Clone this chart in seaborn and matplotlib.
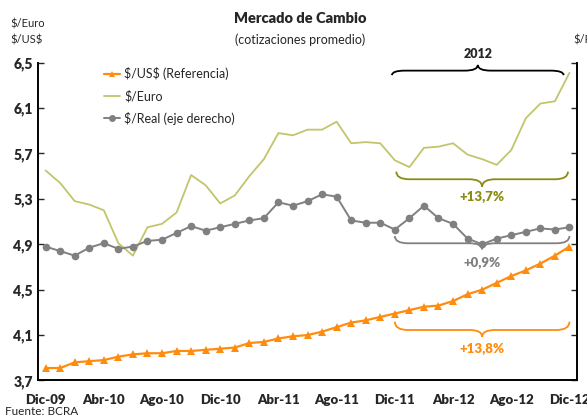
import numpy as np
import pandas as pd
import seaborn as sns
import matplotlib.pyplot as plt
from matplotlib.path import Path
from matplotlib.patches import PathPatch
from matplotlib.lines import Line2D

# monthly averages, Dec-09 .. Dec-12
months = ["Dic-09", "Ene-10", "Feb-10", "Mar-10", "Abr-10", "May-10", "Jun-10", "Jul-10",
          "Ago-10", "Sep-10", "Oct-10", "Nov-10", "Dic-10", "Ene-11", "Feb-11", "Mar-11",
          "Abr-11", "May-11", "Jun-11", "Jul-11", "Ago-11", "Sep-11", "Oct-11", "Nov-11",
          "Dic-11", "Ene-12", "Feb-12", "Mar-12", "Abr-12", "May-12", "Jun-12", "Jul-12",
          "Ago-12", "Sep-12", "Oct-12", "Nov-12", "Dic-12"]
usd = [3.81, 3.81, 3.86, 3.87, 3.88, 3.91, 3.93, 3.94, 3.94, 3.96, 3.96, 3.97, 3.98,
       3.99, 4.03, 4.04, 4.07, 4.09, 4.10, 4.13, 4.17, 4.21, 4.23, 4.26, 4.29, 4.32,
       4.35, 4.36, 4.40, 4.46, 4.50, 4.56, 4.62, 4.67, 4.73, 4.80, 4.88]
euro = [5.55, 5.44, 5.28, 5.25, 5.20, 4.91, 4.80, 5.05, 5.08, 5.18, 5.51, 5.42, 5.26,
        5.33, 5.50, 5.65, 5.88, 5.86, 5.91, 5.91, 5.98, 5.79, 5.80, 5.79, 5.64, 5.58,
        5.75, 5.76, 5.79, 5.69, 5.65, 5.60, 5.73, 6.01, 6.14, 6.16, 6.41]
real = [2.18, 2.14, 2.10, 2.17, 2.21, 2.16, 2.18, 2.23, 2.24, 2.30, 2.36, 2.32, 2.35,
        2.38, 2.41, 2.43, 2.57, 2.54, 2.58, 2.64, 2.62, 2.41, 2.39, 2.39, 2.33, 2.43,
        2.54, 2.43, 2.38, 2.25, 2.20, 2.25, 2.28, 2.31, 2.34, 2.33, 2.35]
left_ticks = [3.7, 4.1, 4.5, 4.9, 5.3, 5.7, 6.1, 6.5]
right_ticks = [1.0, 1.4, 1.8, 2.2, 2.6, 3.0, 3.4, 3.8]

df = pd.DataFrame({"mes": months, "usd": usd, "euro": euro, "real": real})
df["i"] = np.arange(len(df))

c_usd = "#ff8c0f"
c_euro = "#c2c56a"
c_real = "#808080"
c_olive = "#8b8b14"

sns.set_style("white")
plt.rcParams["font.family"] = ["Lato", "DejaVu Sans"]

fig = plt.figure(figsize=(5.87, 4.19), dpi=100)
ax = fig.add_axes([0.0653, 0.0919, 0.9172, 0.7585])
ax2 = ax.twinx()

sns.lineplot(data=df, x="i", y="usd", ax=ax, color=c_usd, lw=1.6, marker="^",
             markersize=5.5, markeredgewidth=0, zorder=4)
sns.lineplot(data=df, x="i", y="euro", ax=ax, color=c_euro, lw=1.3, zorder=3)
sns.lineplot(data=df, x="i", y="real", ax=ax2, color=c_real, lw=1.4, marker="o",
             markersize=5.5, markeredgewidth=0, zorder=3)

ax.set_xlim(-0.5, len(df) - 0.5)
ax.set_ylim(3.7, 6.5)
ax2.set_ylim(1.0, 3.8)

ax.set_yticks(left_ticks, [f"{v:.1f}".replace(".", ",") for v in left_ticks],
              fontweight="heavy", fontsize=10)
ax2.set_yticks(right_ticks)
ax.tick_params(axis="y", direction="in", length=4.5, width=1, pad=4)
ax2.tick_params(axis="y", direction="in", length=4.5, width=1, labelright=False)

lab_pos = list(range(0, len(df), 4))
ax.set_xticks(lab_pos, [months[k] for k in lab_pos], fontweight="heavy", fontsize=9.5)
ax.tick_params(axis="x", which="major", length=0, pad=10)
ax.set_xticks(np.arange(-0.5, len(df), 3), minor=True)
ax.tick_params(axis="x", which="minor", direction="in", length=4.5, width=1)
ax.set_xlabel("")
ax.set_ylabel("")
ax2.set_ylabel("")

for a in (ax, ax2):
    a.spines["top"].set_visible(False)
    for s in ("left", "right", "bottom"):
        a.spines[s].set_color("black")
        a.spines[s].set_linewidth(1.2)


def brace(x0, x1, y_end, y_mid, y_tip, color):
    xc = (x0 + x1) / 2
    r = 0.9
    verts = [(x0, y_end), (x0, y_mid), (x0 + r, y_mid),
             (xc - r, y_mid),
             (xc, y_mid), (xc, y_tip),
             (xc, y_mid), (xc + r, y_mid),
             (x1 - r, y_mid),
             (x1, y_mid), (x1, y_end)]
    codes = [Path.MOVETO, Path.CURVE3, Path.CURVE3, Path.LINETO,
             Path.CURVE3, Path.CURVE3, Path.CURVE3, Path.CURVE3,
             Path.LINETO, Path.CURVE3, Path.CURVE3]
    ax.add_patch(PathPatch(Path(verts, codes), fill=False, edgecolor=color, lw=1.3,
                           clip_on=False, zorder=5))


brace(23.8, 35.6, 6.39, 6.43, 6.48, "black")
brace(24.1, 35.9, 5.54, 5.473, 5.407, c_olive)
brace(24.0, 36.0, 4.973, 4.909, 4.856, c_real)
brace(24.0, 36.0, 4.218, 4.145, 4.086, c_usd)

ax.text(29.7, 6.52, "2012", ha="center", va="bottom", fontweight="heavy", fontsize=9,
        clip_on=False)
ax.text(30.0, 5.317, "+13,7%", ha="center", va="center", fontweight="heavy",
        fontsize=9.5, color=c_olive)
ax.text(30.0, 4.735, "+0,9%", ha="center", va="center", fontweight="heavy",
        fontsize=9.5, color=c_real)
ax.text(30.0, 3.977, "+13,8%", ha="center", va="center", fontweight="heavy",
        fontsize=9.5, color=c_usd)

handles = [Line2D([], [], color=c_usd, lw=1.6, marker="^", markersize=5, markeredgewidth=0),
           Line2D([], [], color=c_euro, lw=1.3),
           Line2D([], [], color=c_real, lw=1.4, marker="o", markersize=5, markeredgewidth=0)]
fig.legend(handles, [r"\$/US\$ (Referencia)", "$/Euro", "$/Real (eje derecho)"],
           loc="upper left", bbox_to_anchor=(0.158, 0.866), frameon=False,
           fontsize=9, handlelength=1.3, handletextpad=0.3, labelspacing=0.75)

fig.text(0.511, 0.957, "Mercado de Cambio", ha="center", va="center",
         fontweight="heavy", fontsize=10.5)
fig.text(0.511, 0.905, "(cotizaciones promedio)", ha="center", va="center", fontsize=9)
fig.text(0.017, 0.943, "$/Euro", ha="left", va="center", fontsize=8)
fig.text(0.017, 0.905, r"\$/US\$", ha="left", va="center", fontsize=8)
fig.text(0.977, 0.905, "$/Real", ha="left", va="center", fontsize=8)
fig.text(0.008, 0.019, "Fuente: BCRA", ha="left", va="center", fontsize=8.5)

fig.savefig("out.png", dpi=100)
